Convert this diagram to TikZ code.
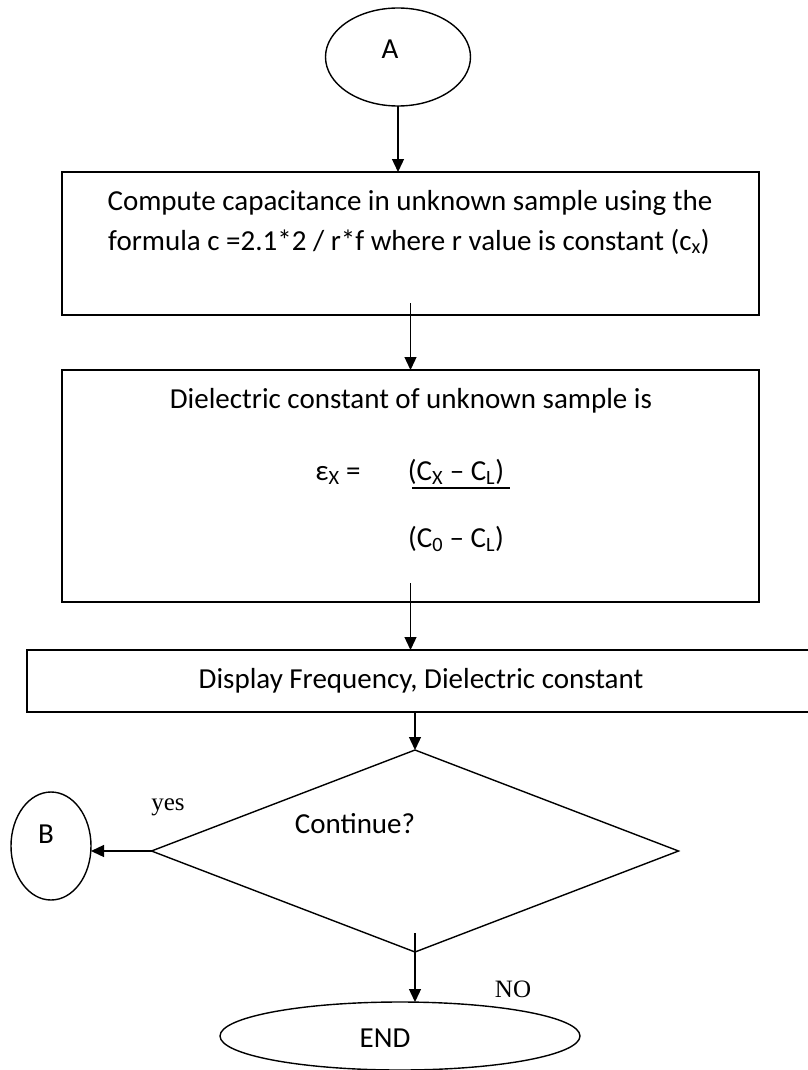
\documentclass[tikz,border=0pt]{standalone}
\usepackage{fontspec}
\setmainfont{Carlito}
\newfontfamily\serifface{Liberation Serif}
\usetikzlibrary{shapes.geometric,arrows.meta}
\begin{document}
\begin{tikzpicture}[x=1pt,y=-1pt,
  every node/.style={inner sep=0pt, outer sep=0pt},
  txt/.style={font=\fontsize{29}{35}\selectfont, anchor=base},
  lbl/.style={font=\serifface\fontsize{25}{30}\selectfont, anchor=base},
  boxnode/.style={draw, line width=1.6pt, rectangle},
  ovalnode/.style={draw, line width=1.4pt, ellipse},
  decnode/.style={draw, line width=1.4pt, diamond},
  arr/.style={line width=1.3pt, -{Triangle[length=13pt,width=12pt]}}]
\useasboundingbox (0,0) rectangle (807,1070);

% shapes
\node[ovalnode, minimum width=145pt, minimum height=98pt] (A) at (398,57) {};
\node[boxnode, minimum width=697pt, minimum height=143pt] (b1) at (410.5,243.5) {};
\node[boxnode, minimum width=697pt, minimum height=232pt] (b2) at (410.5,486) {};
\node[boxnode, minimum width=790pt, minimum height=62pt] (disp) at (422,681) {};
\node[decnode, minimum width=527pt, minimum height=202pt] (dec) at (415,851) {};
\node[ovalnode, minimum width=80pt, minimum height=108pt] (B) at (51,846) {};
\node[ovalnode, minimum width=360pt, minimum height=68pt] (END) at (400,1036) {};

% texts
\node[txt] (tA) at (390,59) {A};
\node[txt] (t1a) at (410,210.5) {Compute capacitance in unknown sample using the};
\node[txt] (t1b) at (409,250) {formula c =2.1*2 / r*f where r value is constant (c\textsubscript{x})};
\node[txt] (t2) at (411,408) {Dielectric constant of unknown sample is};
\node[txt] (eps) at (338,480) {ε\textsubscript{X} =};
\node[txt] (num) at (456,480) {(C\textsubscript{X} – C\textsubscript{L})};
\node[txt] (den) at (456,547) {(C\textsubscript{0} – C\textsubscript{L})};
\draw[line width=1.3pt] (412,488) -- (510,488);
\node[txt] (tdisp) at (421,688) {Display Frequency, Dielectric constant};
\node[txt] (tdec) at (355,833) {Continue?};
\node[txt] (tB) at (46,843) {B};
\node[txt] (tEND) at (385,1047) {END};
\node[lbl] (yes) at (168,810) {yes};
\node[lbl] (no) at (513,997) {NO};

% connectors
\draw[arr] (A.south) -- (A.south |- b1.north);
\draw[arr, shorten <=-12pt] (b1.south) -- (b2.north);
\draw[arr, shorten <=-19pt] (b2.south) -- (b2.south |- disp.north);
\draw[arr] (dec.north |- disp.south) -- (dec.north);
\draw[arr] (dec.west) -- (dec.west -| B.east);
\draw[arr, shorten <=-19pt] (dec.south) -- (dec.south |- END.north);
\end{tikzpicture}
\end{document}
